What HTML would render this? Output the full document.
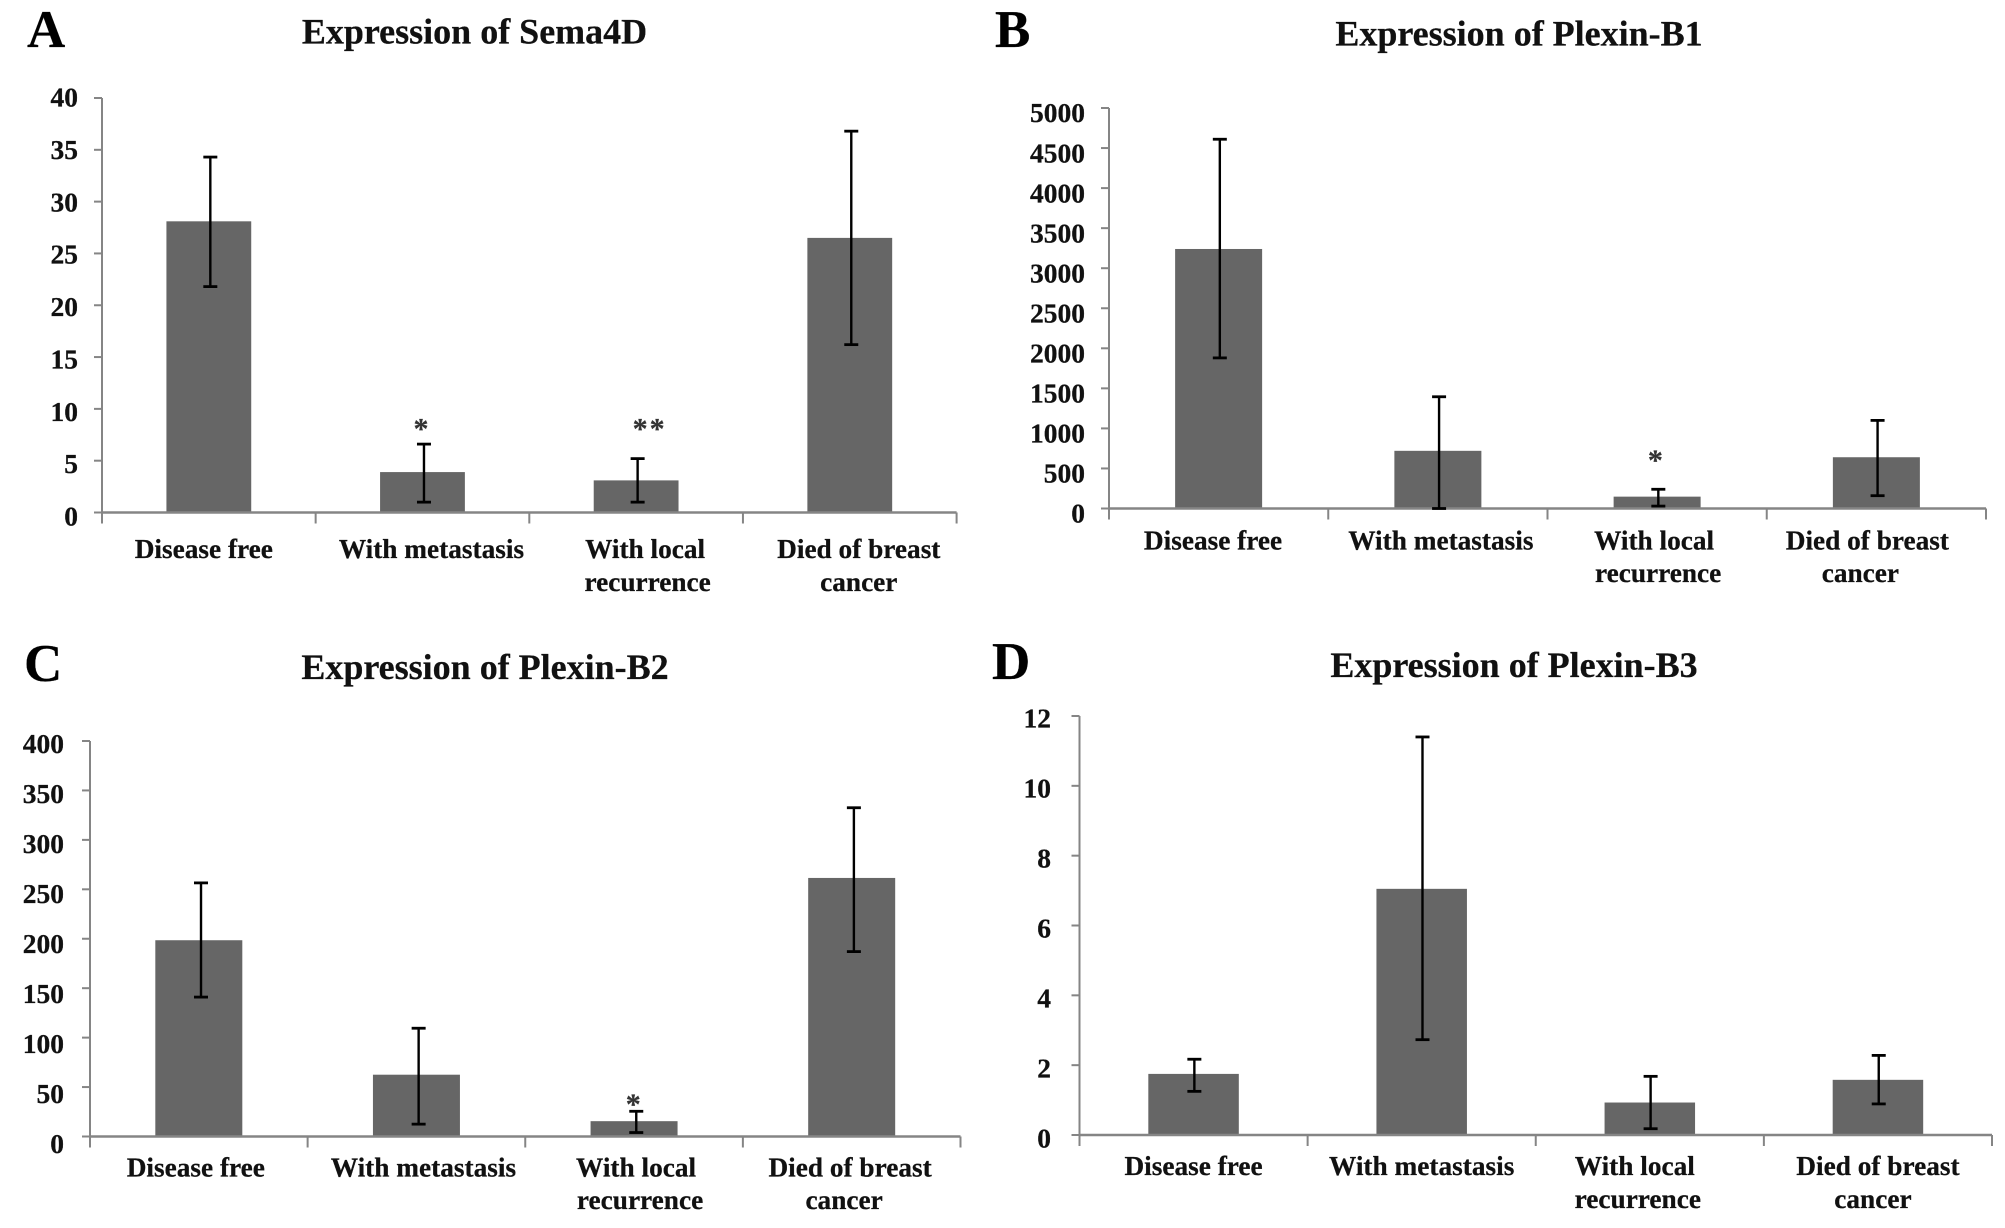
<!DOCTYPE html>
<html lang="en">
<head>
<meta charset="utf-8">
<title>Expression of Sema4D and Plexin-B1, B2, B3</title>
<style>
html,body{margin:0;padding:0;background:#fff;}
svg{display:block;}
text{font-family:"Liberation Serif",serif;font-weight:bold;fill:#111;stroke:#111;stroke-width:0.25px;}
</style>
</head>
<body>
<svg id="figure" xmlns="http://www.w3.org/2000/svg" width="2005" height="1228" viewBox="0 0 2005 1228">
<rect x="0" y="0" width="2005" height="1228" fill="#fff"/>
</svg>
<script>
const categoryLines = [["Disease free"], ["With metastasis"], ["With local", "recurrence"], ["Died of breast", "cancer"]];

const sema4dTicks = [0, 5, 10, 15, 20, 25, 30, 35, 40];
const sema4dMeans = [28.1, 3.9, 3.1, 26.5];
const sema4dHigh = [34.3, 6.6, 5.2, 36.8];
const sema4dLow = [21.8, 1.0, 1.0, 16.2];
const sema4dStars = ["", "*", "**", ""];
const sema4dStarLevels = [0, 8.0, 8.0, 0];

const plexinB1Ticks = [0, 500, 1000, 1500, 2000, 2500, 3000, 3500, 4000, 4500, 5000];
const plexinB1Means = [3240, 720, 148, 640];
const plexinB1High = [4610, 1395, 240, 1100];
const plexinB1Low = [1880, 0, 30, 160];
const plexinB1Stars = ["", "", "*", ""];
const plexinB1StarLevels = [0, 0, 590, 0];

const plexinB2Ticks = [0, 50, 100, 150, 200, 250, 300, 350, 400];
const plexinB2Means = [198.5, 62.5, 15.5, 261.5];
const plexinB2High = [256.5, 109.5, 25.5, 332.5];
const plexinB2Low = [141, 12.5, 4, 187];
const plexinB2Stars = ["", "", "*", ""];
const plexinB2StarLevels = [0, 0, 32, 0];

const plexinB3Ticks = [0, 2, 4, 6, 8, 10, 12];
const plexinB3Means = [1.75, 7.05, 0.93, 1.58];
const plexinB3High = [2.17, 11.4, 1.68, 2.28];
const plexinB3Low = [1.25, 2.73, 0.18, 0.89];
const plexinB3Stars = ["", "", "", ""];
const plexinB3StarLevels = [0, 0, 0, 0];

const panelLayouts = [
  {id:"sema4d", letter:"A", letterX:27, letterY:47, title:"Expression of Sema4D", titleX:474.5, titleY:43.5,
   ticks:sema4dTicks, means:sema4dMeans, high:sema4dHigh, low:sema4dLow, stars:sema4dStars, starLevels:sema4dStarLevels,
   left:102, right:956.6, top:98, bottom:512.5, barW:84.8, errDx:1.5, tickLabelX:78, tickDyTop:-1, tickDyBottom:3.5,
   labelDx:[-5,9,9,9], secondDx:[0,0,2.5,0], labelY:558, labelY2:591},
  {id:"plexin-b1", letter:"B", letterX:995, letterY:47, title:"Expression of Plexin-B1", titleX:1519, titleY:45.5,
   ticks:plexinB1Ticks, means:plexinB1Means, high:plexinB1High, low:plexinB1Low, stars:plexinB1Stars, starLevels:plexinB1StarLevels,
   left:1109, right:1986, top:108, bottom:508.5, barW:87, errDx:1.2, tickLabelX:1085, tickDyTop:4.7, tickDyBottom:4.7,
   labelDx:[-5.6,3,-3,-9], secondDx:[0,0,4,-7], labelY:549.6, labelY2:582},
  {id:"plexin-b2", letter:"C", letterX:24, letterY:681, title:"Expression of Plexin-B2", titleX:485, titleY:679,
   ticks:plexinB2Ticks, means:plexinB2Means, high:plexinB2High, low:plexinB2Low, stars:plexinB2Stars, starLevels:plexinB2StarLevels,
   left:90, right:960.5, top:741, bottom:1136.5, barW:87, errDx:2.2, tickLabelX:64, tickDyTop:2.3, tickDyBottom:7,
   labelDx:[-3,7,2,-1.6], secondDx:[0,0,4,-6], labelY:1176.5, labelY2:1209},
  {id:"plexin-b3", letter:"D", letterX:992, letterY:679, title:"Expression of Plexin-B3", titleX:1514, titleY:677,
   ticks:plexinB3Ticks, means:plexinB3Means, high:plexinB3High, low:plexinB3Low, stars:plexinB3Stars, starLevels:plexinB3StarLevels,
   left:1079.5, right:1992, top:716, bottom:1135, barW:90.5, errDx:0.8, tickLabelX:1051, tickDyTop:2, tickDyBottom:3,
   labelDx:[0,0,-15,0], secondDx:[0,0,3,-5], labelY:1175, labelY2:1208}
];

const SVGNS = "http://www.w3.org/2000/svg";
const figure = document.getElementById("figure");

function shape(parent, tag, attrs, content) {
  const el = document.createElementNS(SVGNS, tag);
  for (const key in attrs) el.setAttribute(key, attrs[key]);
  if (content !== undefined) el.textContent = content;
  parent.appendChild(el);
  return el;
}

function axisLine(parent, x1, y1, x2, y2, width) {
  return shape(parent, "line", {x1, y1, x2, y2, stroke:"#858585", "stroke-width":width});
}

panelLayouts.forEach(function (p) {
  const axisMax = p.ticks[p.ticks.length - 1];
  const yScale = function (v) { return p.bottom - (v / axisMax) * (p.bottom - p.top); };
  const band = (p.right - p.left) / categoryLines.length;
  const xCenter = function (i) { return p.left + (i + 0.5) * band; };

  const group = shape(figure, "g", {});
  
  

  const letter = shape(group, "text", {x:p.letterX, y:p.letterY, "font-size":53, style:"fill:#000"}, p.letter);
  
  

  const title = shape(group, "text", {x:p.titleX, y:p.titleY, "font-size":36, "text-anchor":"middle"}, p.title);
  
  

  p.means.forEach(function (v, i) {
    const top = yScale(v);
    const bar = shape(group, "rect", {x:xCenter(i) - p.barW / 2, y:top, width:p.barW, height:p.bottom - top, fill:"#666"});
    
    
  });

  const yAxis = axisLine(group, p.left, p.top, p.left, p.bottom, 2);
  
  
  const xAxis = axisLine(group, p.left, p.bottom, p.right, p.bottom, 2.4);
  
  

  p.ticks.forEach(function (t, i) {
    const y = yScale(t);
    const mark = axisLine(group, p.left - 8, y, p.left, y, 2);
    
    
    const frac = i / (p.ticks.length - 1);
    const dy = p.tickDyBottom + (p.tickDyTop - p.tickDyBottom) * frac;
    const label = shape(group, "text", {x:p.tickLabelX, y:y + dy + 9.5, "font-size":27.5, "text-anchor":"end"}, String(t));
    
    
  });

  for (let i = 0; i <= categoryLines.length; i++) {
    const x = p.left + i * band;
    const mark = axisLine(group, x, p.bottom, x, p.bottom + 11, 2);
    
    
  }

  categoryLines.forEach(function (lines, i) {
    lines.forEach(function (line, j) {
      const x = xCenter(i) + p.labelDx[i] + (j === 1 ? p.secondDx[i] : 0);
      const y = j === 0 ? p.labelY : p.labelY2;
      const label = shape(group, "text", {x, y, "font-size":27.3, "text-anchor":"middle"}, line);
      
      
    });
  });

  p.means.forEach(function (v, i) {
    const ex = xCenter(i) + p.errDx;
    const yHigh = yScale(p.high[i]);
    const yLow = yScale(p.low[i]);
    const stem = shape(group, "line", {x1:ex, y1:yHigh, x2:ex, y2:yLow, stroke:"#000", "stroke-width":2.4});
    
    
    const capHigh = shape(group, "line", {x1:ex - 7, y1:yHigh, x2:ex + 7, y2:yHigh, stroke:"#000", "stroke-width":2.8});
    
    
    const capLow = shape(group, "line", {x1:ex - 7, y1:yLow, x2:ex + 7, y2:yLow, stroke:"#000", "stroke-width":2.8});
    
    
    if (p.stars[i]) {
      const star = shape(group, "text", {x:ex + (p.stars[i].length > 1 ? 12 : -2), y:yScale(p.starLevels[i]) + 9, "font-size":30, "text-anchor":"middle", "letter-spacing":"2", style:"fill:#333;stroke:#333"}, p.stars[i]);
      
      
    }
  });
});
</script>
</body>
</html>
